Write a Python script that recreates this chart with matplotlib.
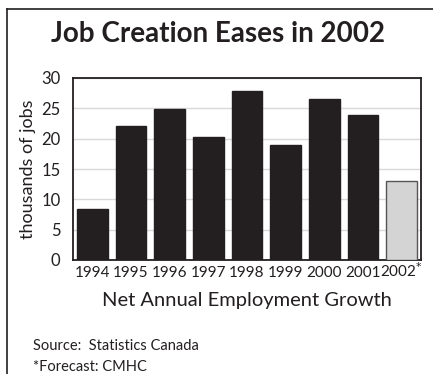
import matplotlib.pyplot as plt
from matplotlib.lines import Line2D

years = ['1994', '1995', '1996', '1997', '1998', '1999', '2000', '2001', '2002$^{*}$']
jobs = [8.4, 22.1, 24.9, 20.2, 27.9, 18.9, 26.5, 23.9, 13.0]
forecast = [False] * 8 + [True]

plt.rcParams['font.family'] = ['Lato', 'DejaVu Sans']

fig = plt.figure(figsize=(4.33, 3.74), dpi=100)
ax = fig.add_axes([73 / 433, 1 - 260 / 374, 348 / 433, 182 / 374])

colors = ['#d4d4d4' if f else '#231f20' for f in forecast]
edges = ['#555555' if f else '#231f20' for f in forecast]
ax.bar(range(len(years)), jobs, width=0.8, color=colors, edgecolor=edges,
       linewidth=1.0, zorder=3)

ax.set_xlim(-0.5, len(years) - 0.5)
ax.set_ylim(0, 30)
ax.set_yticks([0, 5, 10, 15, 20, 25, 30])
ax.set_xticks(range(len(years)))
ax.set_xticklabels(years)
ax.tick_params(length=0, colors='#231f20')
ax.tick_params(axis='x', pad=12, labelsize=11)
ax.tick_params(axis='y', pad=9, labelsize=12)
for lbl in ax.get_xticklabels():
    lbl.set_verticalalignment('baseline')
ax.grid(axis='y', color='#d9d9d9', linewidth=1.0, zorder=0)
for s in ax.spines.values():
    s.set_linewidth(1.3)
    s.set_color('#231f20')

ax.set_ylabel('thousands of jobs', fontsize=13, color='#231f20', labelpad=4)
ax.set_xlabel('Net Annual Employment Growth', fontsize=14.5, color='#231f20',
              labelpad=9)

fig.text(0.503, 1 - 34 / 374, 'Job Creation Eases in 2002', ha='center',
         va='center', fontsize=20, fontweight='bold', color='#231f20')
fig.text(33 / 433, 1 - 346 / 374, 'Source:  Statistics Canada', fontsize=10.5,
         va='center', color='#231f20')
fig.text(33 / 433, 1 - 367 / 374, '*Forecast: CMHC', fontsize=10.5,
         va='center', color='#231f20')

# outer frame (top and left edges only)
fig.add_artist(Line2D([7 / 433, 1], [1 - 9 / 374] * 2, color='#231f20', lw=1.2))
fig.add_artist(Line2D([7 / 433] * 2, [0, 1 - 9 / 374], color='#231f20', lw=1.2))

fig.savefig('out.png', dpi=100)
